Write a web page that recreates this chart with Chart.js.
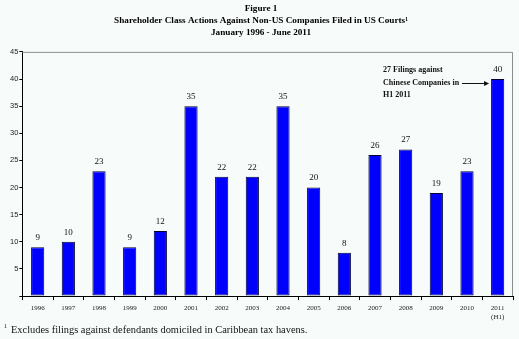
<!DOCTYPE html>
<html>
<head>
<meta charset="utf-8">
<script src="https://cdn.jsdelivr.net/npm/chart.js@4"></script>
<style>
    html, body { margin: 0; padding: 0; background: #f7fcfa; }
    #wrap { width: 519px; height: 339px; position: relative; }
</style>
</head>
<body>
<div id="wrap"><canvas id="filingsChart"></canvas></div>
<script>
// Chart data
const years = ['1996', '1997', '1998', '1999', '2000', '2001', '2002', '2003',
    '2004', '2005', '2006', '2007', '2008', '2009', '2010', ['2011', '(H1)']];
const filings = [9, 10, 23, 9, 12, 35, 22, 22, 35, 20, 8, 26, 27, 19, 23, 40];
const yTicks = [0, 5, 10, 15, 20, 25, 30, 35, 40, 45];

const titleLines = [
    'Figure 1',
    'Shareholder Class Actions Against Non-US Companies Filed in US Courts\u00B9',
    'January 1996 - June 2011'
];
const noteLines = ['27 Filings against', 'Chinese Companies in', 'H1 2011'];
const footnote = 'Excludes filings against defendants domiciled in Caribbean tax havens.';

const serif = '"Liberation Serif", "Times New Roman", serif';
const sans = '"Liberation Sans", Arial, sans-serif';

// Draws value labels, frame lines, the annotation and the footnote
const extras = {
    id: 'extras',
    afterDatasetsDraw(chart) {
        const ctx = chart.ctx;
        const area = chart.chartArea;
        const meta = chart.getDatasetMeta(0);

        ctx.save();

        // grey frame on top and right
        ctx.strokeStyle = '#8c8c8c';
        ctx.lineWidth = 1;
        ctx.beginPath();
        ctx.moveTo(area.left, area.top + 0.5);
        ctx.lineTo(area.right - 0.5, area.top + 0.5);
        ctx.lineTo(area.right - 0.5, area.bottom);
        ctx.stroke();

        // value labels
        ctx.fillStyle = '#111';
        ctx.font = '9px ' + serif;
        ctx.textAlign = 'center';
        ctx.textBaseline = 'bottom';
        meta.data.forEach((bar, i) => {
            ctx.fillText(filings[i], bar.x, bar.y - 5);
        });

        // annotation
        const last = meta.data[meta.data.length - 1];
        const tipX = last.x - last.width / 2 - 2;
        const arrowY = last.y + 4;
        ctx.font = 'bold 8px ' + serif;
        ctx.textAlign = 'left';
        ctx.textBaseline = 'middle';
        noteLines.forEach((line, i) => {
            ctx.fillText(line, tipX - 106, arrowY - 13 + i * 12.5);
        });
        ctx.strokeStyle = '#111';
        ctx.beginPath();
        ctx.moveTo(tipX - 27, arrowY + 0.5);
        ctx.lineTo(tipX - 4, arrowY + 0.5);
        ctx.stroke();
        ctx.beginPath();
        ctx.moveTo(tipX, arrowY + 0.5);
        ctx.lineTo(tipX - 5, arrowY - 2);
        ctx.lineTo(tipX - 5, arrowY + 3);
        ctx.closePath();
        ctx.fill();

        // footnote
        ctx.font = '6px ' + serif;
        ctx.fillText('1', 4, chart.height - 13);
        ctx.font = '10.4px ' + serif;
        ctx.fillText(footnote, 11, chart.height - 9);

        ctx.restore();
    }
};

const ctx = document.getElementById('filingsChart').getContext('2d');

new Chart(ctx, {
    type: 'bar',
    data: {
        labels: years,
        datasets: [{
            data: filings,
            backgroundColor: '#0000ff',
            borderColor: '#000033',
            borderWidth: 1,
            borderSkipped: false,
            barPercentage: 0.43,
            categoryPercentage: 1
        }]
    },
    options: {
        responsive: true,
        maintainAspectRatio: false,
        animation: false,
        layout: {
            padding: { top: 2, left: 9, right: 6, bottom: 14 }
        },
        plugins: {
            legend: { display: false },
            tooltip: { enabled: false },
            title: {
                display: true,
                text: titleLines,
                color: '#000',
                font: { family: serif, size: 9.2, weight: 'bold', lineHeight: 1.3 },
                padding: { top: 1, bottom: 13 }
            }
        },
        scales: {
            x: {
                offset: true,
                grid: {
                    offset: true,
                    drawOnChartArea: false,
                    tickLength: 4,
                    color: '#000'
                },
                border: { color: '#000', width: 1 },
                ticks: {
                    color: '#222',
                    font: { family: serif, size: 7, lineHeight: 1.35 },
                    maxRotation: 0,
                    autoSkip: false,
                    padding: 3
                }
            },
            y: {
                min: 0,
                max: 45,
                afterBuildTicks: axis => {
                    axis.ticks = yTicks.map(v => ({ value: v }));
                },
                grid: {
                    drawOnChartArea: false,
                    tickLength: 3,
                    color: '#000'
                },
                border: { color: '#000', width: 1 },
                ticks: {
                    color: '#222',
                    font: { family: sans, size: 7.5 },
                    padding: 1,
                    callback: v => (v === 0 ? '' : v)
                }
            }
        }
    },
    plugins: [extras]
});
</script>
</body>
</html>
